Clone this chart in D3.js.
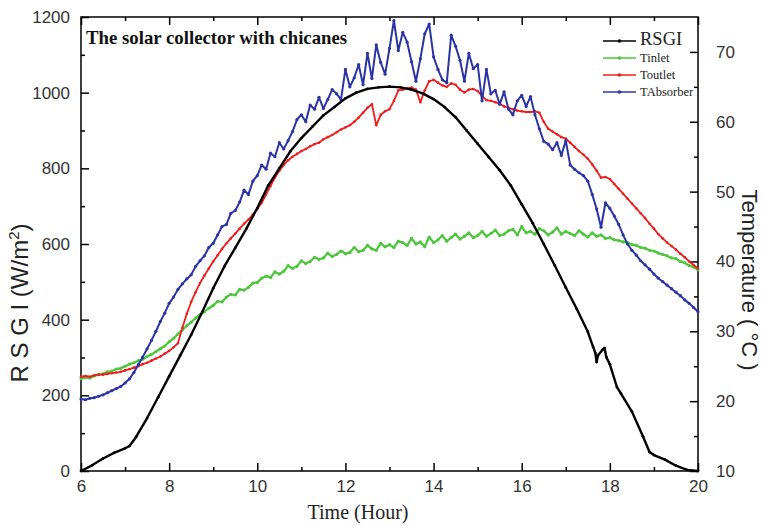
<!DOCTYPE html>
<html>
<head>
<meta charset="utf-8">
<script src="https://cdn.jsdelivr.net/npm/d3@7"></script>
<style>
body{margin:0;background:#fff;}
</style>
</head>
<body>
<script>
// RSGI (left axis, W/m2) read at irregular times
var rsgiHours = [6.0,6.25,6.5,6.75,7.0,7.1,7.25,7.5,7.75,8.0,8.25,8.5,8.75,9.0,9.25,9.5,9.75,10.0,10.25,10.5,10.75,11.0,11.25,11.5,11.75,12.0,12.25,12.5,12.75,13.0,13.25,13.5,13.75,14.0,14.25,14.5,14.75,15.0,15.25,15.5,15.75,16.0,16.25,16.5,16.75,17.0,17.25,17.5,17.62,17.67,17.7,17.73,17.83,17.88,17.92,18.0,18.16,18.25,18.5,18.75,18.9,19.0,19.25,19.5,19.75,20.0];
var rsgiValues = [0,15,33,48,60,66,90,140,195,250,305,360,420,483,540,590,640,695,755,800,845,880,910,940,962,985,1000,1010,1014,1016,1014,1008,998,983,962,935,900,865,830,795,755,705,655,600,543,485,428,368,328,312,288,306,320,325,301,282,222,205,157,92,50,42,30,14,3,0];

// temperatures (right axis, degC) every 0.1 h from 6 to 20
var hours = d3.range(141).map(function(i){ return 6 + i/10; });
var tInlet = [
23.2,23.4,23.3,23.6,23.8,23.9,24.2,24.3,24.6,24.7,
25.0,25.3,25.5,25.8,26.0,26.4,26.7,27.1,27.5,27.9,
28.5,29.0,29.6,30.2,30.8,31.3,31.9,32.4,32.8,33.3,
33.7,34.3,34.2,34.9,35.3,35.2,36.0,35.9,36.3,36.9,
37.0,37.6,37.9,37.7,38.5,38.2,38.6,39.4,39.0,39.3,
40.1,39.7,40.0,40.6,40.3,40.5,41.2,40.7,41.0,41.5,
41.1,41.3,42.0,41.4,41.6,42.3,41.8,41.6,42.6,42.1,
42.4,42.0,42.9,42.7,42.3,43.3,42.5,42.8,42.1,43.5,
42.7,43.1,43.7,42.9,43.4,43.9,43.2,43.6,44.1,43.4,
43.7,44.3,43.6,44.0,44.5,43.7,43.9,44.4,44.6,43.8,
45.0,44.1,44.3,43.9,44.7,44.4,43.8,44.2,44.8,43.9,
44.3,44.0,43.7,44.4,43.9,43.5,44.1,43.6,43.8,43.3,
43.4,43.1,43.0,42.8,42.7,42.4,42.3,42.0,41.9,41.6,
41.5,41.2,41.0,40.8,40.5,40.4,40.0,39.8,39.4,39.2,
38.8];
var tOutlet = [
23.5,23.6,23.5,23.7,23.8,23.8,23.9,24.0,24.1,24.2,
24.4,24.6,24.8,25.0,25.3,25.5,25.8,26.1,26.4,26.8,
27.2,27.7,28.3,30.5,32.5,34.2,35.6,36.9,38.0,39.0,
40.0,40.9,41.8,42.6,43.3,44.0,44.7,45.4,46.0,46.7,
47.5,48.4,49.6,50.8,52.0,53.0,53.8,54.5,55.0,55.4,
55.8,56.1,56.5,56.8,57.0,57.5,57.8,58.1,58.5,58.9,
59.2,59.5,60.0,60.6,61.3,62.0,62.5,59.5,61.0,61.5,
61.8,63.0,64.5,64.6,64.8,64.9,64.6,62.8,64.5,65.8,
66.0,65.6,65.2,65.0,65.5,65.3,64.6,64.2,64.6,64.7,
64.4,63.7,63.1,63.0,62.8,62.6,62.2,62.0,61.8,61.6,
61.5,61.4,61.4,61.5,61.3,60.0,59.0,58.6,58.2,57.8,
57.6,57.0,56.4,55.8,55.3,54.7,53.9,53.0,52.0,52.1,
51.8,51.1,50.4,49.7,49.0,48.3,47.6,46.9,46.2,45.4,
44.7,43.9,43.3,42.7,42.2,41.7,41.1,40.6,40.0,39.5,
39.0];
var tAbsorber = [
20.3,20.2,20.4,20.5,20.7,20.9,21.2,21.5,21.8,22.1,
22.6,23.2,24.1,25.2,26.3,27.5,28.7,30.0,31.4,32.6,
34.0,34.9,36.0,36.8,37.5,38.1,39.3,40.1,40.8,42.0,
42.6,43.8,45.0,45.3,46.9,47.3,48.5,50.2,49.6,51.5,
52.3,53.8,53.2,55.5,55.0,57.0,56.1,57.3,58.6,60.3,
61.0,60.0,62.4,61.8,63.5,61.9,63.2,64.6,64.0,63.2,
67.5,65.0,66.3,68.2,65.3,69.8,66.2,71.0,68.5,66.8,
70.5,74.5,70.2,72.8,71.4,68.6,65.8,69.0,72.6,74.0,
69.3,67.5,66.0,65.6,72.4,70.8,68.8,65.8,69.8,67.6,
68.2,63.0,67.5,64.0,64.5,62.5,64.3,61.8,61.0,63.0,
63.8,62.2,63.6,61.0,59.0,57.2,56.8,56.0,57.0,55.2,
57.3,53.8,53.2,52.7,52.3,51.5,49.6,47.5,44.9,48.4,
47.6,46.5,45.3,43.8,42.5,41.6,40.9,40.1,39.5,38.9,
38.2,37.6,37.1,36.6,36.1,35.6,35.1,34.5,34.0,33.4,
32.8];

var xMajor = [6,8,10,12,14,16,18,20], xMinor = [7,9,11,13,15,17,19];
var leftMajor = [0,200,400,600,800,1000,1200], leftMinor = [100,300,500,700,900,1100];
var rightMajor = [10,20,30,40,50,60,70], rightMinor = [15,25,35,45,55,65];

var plotLeft = 81, plotRight = 698, plotTop = 17, plotBottom = 471;

var svg = d3.select("body").append("svg")
	.attr("width", 763).attr("height", 526)
	.style("font-family", "'Liberation Sans', Arial, sans-serif");

var x = d3.scaleLinear().domain([6, 20]).range([plotLeft, plotRight]);
var yL = d3.scaleLinear().domain([0, 1200]).range([plotBottom, plotTop]);
var yR = d3.scaleLinear().domain([10, 75]).range([plotBottom, plotTop]);

/* axes, ticks pointing into the plot */
function styleAxis(g){
	g.select(".domain").remove();
	g.selectAll(".tick line").attr("stroke", "#000").attr("stroke-width", 1.5);
	g.selectAll(".tick text").attr("fill", "#333").style("font-size", "17px");
}
svg.append("g").attr("transform", "translate(0," + plotBottom + ")")
	.call(d3.axisBottom(x).tickValues(xMajor).tickSize(-8).tickPadding(9).tickFormat(d3.format("d"))).call(styleAxis);
svg.append("g").attr("transform", "translate(0," + plotBottom + ")")
	.call(d3.axisBottom(x).tickValues(xMinor).tickSize(-4).tickFormat("")).call(styleAxis);
svg.append("g").attr("transform", "translate(0," + plotTop + ")")
	.call(d3.axisTop(x).tickValues(xMajor).tickSize(-8).tickFormat("")).call(styleAxis);
svg.append("g").attr("transform", "translate(0," + plotTop + ")")
	.call(d3.axisTop(x).tickValues(xMinor).tickSize(-4).tickFormat("")).call(styleAxis);
svg.append("g").attr("transform", "translate(" + plotLeft + ",0)")
	.call(d3.axisLeft(yL).tickValues(leftMajor).tickSize(-8).tickPadding(11).tickFormat(d3.format("d"))).call(styleAxis);
svg.append("g").attr("transform", "translate(" + plotLeft + ",0)")
	.call(d3.axisLeft(yL).tickValues(leftMinor).tickSize(-4).tickFormat("")).call(styleAxis);
svg.append("g").attr("transform", "translate(" + plotRight + ",0)")
	.call(d3.axisRight(yR).tickValues(rightMajor).tickSize(-8).tickPadding(18).tickFormat(d3.format("d"))).call(styleAxis);
svg.append("g").attr("transform", "translate(" + plotRight + ",0)")
	.call(d3.axisRight(yR).tickValues(rightMinor).tickSize(-4).tickFormat("")).call(styleAxis);

svg.append("rect")
	.attr("x", plotLeft).attr("y", plotTop).attr("width", plotRight - plotLeft).attr("height", plotBottom - plotTop)
	.attr("fill", "none").attr("stroke", "#000").attr("stroke-width", 1.5);

/* series */
var series = [
	{name:"Tinlet", colour:"#4cc63a", xs:hours, ys:tInlet, y:yR, w:2.2, r:1.6},
	{name:"Toutlet", colour:"#f01c1c", xs:hours, ys:tOutlet, y:yR, w:1.8, r:1.3},
	{name:"TAbsorber", colour:"#2a34a6", xs:hours, ys:tAbsorber, y:yR, w:2, r:1.6},
	{name:"RSGI", colour:"#000", xs:rsgiHours, ys:rsgiValues, y:yL, w:2.4, r:1.4}
];
series.forEach(function(s){
	var pts = s.xs.map(function(h, i){ return [h, s.ys[i]]; });
	var line = d3.line().x(function(d){ return x(d[0]); }).y(function(d){ return s.y(d[1]); });
	svg.append("path").datum(pts)
		.attr("d", line).attr("fill", "none")
		.attr("stroke", s.colour).attr("stroke-width", s.w).attr("stroke-linejoin", "round");
	svg.append("g").selectAll("circle").data(pts).enter().append("circle")
		.attr("cx", function(d){ return x(d[0]); })
		.attr("cy", function(d){ return s.y(d[1]); })
		.attr("r", s.r).attr("fill", s.colour);
});

/* title */
svg.append("text").attr("x", 86).attr("y", 44)
	.style("font-family", "'Liberation Serif', 'Times New Roman', serif")
	.style("font-weight", "bold").style("font-size", "18.8px").attr("fill", "#111")
	.text("The solar collector with chicanes");

/* legend */
var legend = [
	{name:"RSGI", colour:"#000", y:41, size:18.5},
	{name:"Tinlet", colour:"#4cc63a", y:58, size:12.5},
	{name:"Toutlet", colour:"#f01c1c", y:75, size:12.5},
	{name:"TAbsorber", colour:"#2a34a6", y:92, size:12.5}
];
legend.forEach(function(l){
	svg.append("line").attr("x1", 603).attr("x2", 636).attr("y1", l.y).attr("y2", l.y)
		.attr("stroke", l.colour).attr("stroke-width", 1.5);
	svg.append("circle").attr("cx", 619.5).attr("cy", l.y).attr("r", 1.8).attr("fill", l.colour);
	svg.append("text").attr("x", 640).attr("y", l.y + 4)
		.style("font-family", "'Liberation Serif', 'Times New Roman', serif")
		.style("font-size", l.size + "px").attr("fill", "#222")
		.text(l.name);
});

/* axis titles */
svg.append("text").attr("x", 358).attr("y", 519).attr("text-anchor", "middle")
	.style("font-family", "'Liberation Serif', 'Times New Roman', serif")
	.style("font-size", "20px").attr("fill", "#222")
	.text("Time (Hour)");

var lt = svg.append("text").attr("transform", "translate(28,303) rotate(-90)")
	.attr("text-anchor", "middle").style("font-size", "24px").attr("fill", "#222");
lt.append("tspan").text("R S G I (W/m");
lt.append("tspan").attr("dy", -9).style("font-size", "15px").text("2");
lt.append("tspan").attr("dy", 9).text(")");

svg.append("text").attr("transform", "translate(742,280) rotate(90)")
	.attr("text-anchor", "middle").style("font-size", "22px").attr("fill", "#222")
	.text("Temperature ( \u00B0C )");
</script>
</body>
</html>
